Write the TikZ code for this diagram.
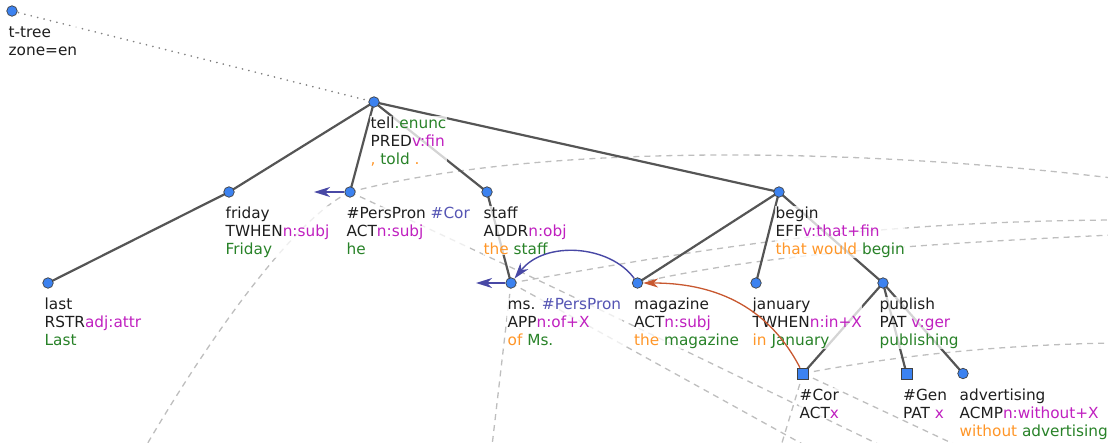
\documentclass[tikz,border=0pt]{standalone}
\usepackage{fontspec}
\setmainfont{DejaVu Sans}
\usetikzlibrary{arrows.meta}

\definecolor{nodeblue}{RGB}{60,130,240}
\definecolor{edgegray}{RGB}{85,85,85}
\definecolor{dashgray}{RGB}{190,190,190}
\definecolor{dotgray}{RGB}{130,130,130}
\definecolor{txtdark}{RGB}{30,30,30}
\definecolor{fgreen}{RGB}{40,130,40}
\definecolor{fmag}{RGB}{192,32,192}
\definecolor{forange}{RGB}{255,150,40}
\definecolor{fcoref}{RGB}{85,85,180}
\definecolor{corarrow}{RGB}{72,72,165}
\definecolor{gramarrow}{RGB}{200,88,48}

\newcommand{\tgr}[1]{\textcolor{fgreen}{#1}}
\newcommand{\tmg}[1]{\textcolor{fmag}{#1}}
\newcommand{\tor}[1]{\textcolor{forange}{#1}}
\newcommand{\tcf}[1]{\textcolor{fcoref}{#1}}
\newcommand{\threelines}[3]{\vtop{\hbox{#1}\hbox{#2}\hbox{#3}}}
\newcommand{\twolines}[2]{\vtop{\hbox{#1}\hbox{#2}}}

\pgfdeclarelayer{links}
\pgfdeclarelayer{edges}
\pgfdeclarelayer{labels}
\pgfdeclarelayer{arrows}
\pgfsetlayers{links,edges,labels,arrows,main}

\begin{document}
\begin{tikzpicture}[x=1pt,y=-1pt,
  tnode/.style={circle, draw=black!75, fill=nodeblue, line width=0.7pt, inner sep=0pt, minimum size=10.5pt},
  tsquare/.style={rectangle, draw=black!75, fill=nodeblue, line width=0.7pt, inner sep=0pt, minimum size=11pt},
  tedge/.style={draw=edgegray, line width=2.2pt},
  rootlink/.style={draw=dotgray, line width=1.8pt, line cap=round, dash pattern=on 0.1pt off 6.5pt},
  zonelink/.style={draw=dashgray, line width=1.3pt, dash pattern=on 6pt off 5pt},
  lbl/.style={anchor=base west, inner sep=0.5pt, fill=white, fill opacity=0.75, text opacity=1,
              text=txtdark, font=\fontsize{15.3}{18}\selectfont},
  coref/.style={draw=corarrow, line width=1.4pt, -{Stealth[length=16pt,width=10pt,inset=5pt]}},
  gram/.style={draw=gramarrow, line width=1.3pt, -{Stealth[length=15pt,width=9pt,inset=4.5pt]}}
]
\useasboundingbox (0,0) rectangle (1108,442);
\clip (0,0) rectangle (1108,442);

% tree nodes
\node[tnode] (root) at (12,11) {};
\node[tnode] (tell) at (374,102) {};
\node[tnode] (friday) at (229,192) {};
\node[tnode] (pers) at (350,192) {};
\node[tnode] (staff) at (487,192) {};
\node[tnode] (begin) at (779,192) {};
\node[tnode] (last) at (48,283) {};
\node[tnode] (ms) at (511,283) {};
\node[tnode] (mag) at (637.5,283) {};
\node[tnode] (jan) at (756,283) {};
\node[tnode] (pub) at (883,283) {};
\node[tsquare] (cor) at (803,373.5) {};
\node[tsquare] (gen) at (906.5,373.5) {};
\node[tnode] (adv) at (963,373.5) {};

% free ends of links leaving the picture
\coordinate (out-a) at (146,446);
\coordinate (out-b) at (1112,178);
\coordinate (out-c) at (1112,220);
\coordinate (out-d) at (1112,235);
\coordinate (out-e) at (1112,343);
\coordinate (out-f) at (882,446);
\coordinate (out-g) at (806,446);
\coordinate (out-h) at (492,446);
\coordinate (out-i) at (781,446);
\coordinate (out-j) at (958,446);
\coordinate (pers-ant) at (314,192);
\coordinate (ms-ant) at (476,283);

% dashed links to other zones
\begin{pgfonlayer}{links}
  \draw[zonelink] (pers.center) .. controls (300,215) and (220,320) .. (out-a);
  \draw[zonelink] (pers.center) .. controls (550,140) and (880,150) .. (out-b);
  \draw[zonelink] (ms.center) .. controls (700,250) and (850,222) .. (out-c);
  \draw[zonelink] (mag.center) .. controls (760,255) and (900,245) .. (out-d);
  \draw[zonelink] (cor.center) .. controls (900,355) and (1000,345) .. (out-e);
  \draw[zonelink] (pers.center) .. controls (560,290) .. (out-f);
  \draw[zonelink] (ms.center) -- (out-g);
  \draw[zonelink] (ms.center) -- (out-h);
  \draw[zonelink] (cor.center) -- (out-i);
  \draw[zonelink] (cor.center) -- (out-j);
\end{pgfonlayer}

% tree edges
\begin{pgfonlayer}{edges}
  \draw[rootlink] (root.center) -- (tell.center);
  \draw[tedge] (tell.center) -- (friday.center);
  \draw[tedge] (tell.center) -- (pers.center);
  \draw[tedge] (tell.center) -- (staff.center);
  \draw[tedge] (tell.center) -- (begin.center);
  \draw[tedge] (friday.center) -- (last.center);
  \draw[tedge] (staff.center) -- (ms.center);
  \draw[tedge] (begin.center) -- (mag.center);
  \draw[tedge] (begin.center) -- (jan.center);
  \draw[tedge] (begin.center) -- (pub.center);
  \draw[tedge] (pub.center) -- (cor.center);
  \draw[tedge] (pub.center) -- (gen.center);
  \draw[tedge] (pub.center) -- (adv.center);
\end{pgfonlayer}

% node labels
\begin{pgfonlayer}{labels}
  \node[lbl] (root-l) at (8,37.5) {\twolines{t-tree}{zone=en}};
  \node[lbl] (tell-l) at (370,128.5) {\threelines{tell\tgr{.enunc}}{PRED\tmg{v:fin}}{\tor{,} \tgr{told} \tor{.}}};
  \node[lbl] (friday-l) at (225,218.5) {\threelines{friday}{TWHEN\tmg{n:subj}}{\tgr{Friday}}};
  \node[lbl] (pers-l) at (346,218.5) {\threelines{\#PersPron \tcf{\#Cor}}{ACT\tmg{n:subj}}{\tgr{he}}};
  \node[lbl] (staff-l) at (483,218.5) {\threelines{staff}{ADDR\tmg{n:obj}}{\tor{the} \tgr{staff}}};
  \node[lbl] (begin-l) at (775,218.5) {\threelines{begin}{EFF\tmg{v:that+fin}}{\tor{that would} \tgr{begin}}};
  \node[lbl] (last-l) at (44,309.5) {\threelines{last}{RSTR\tmg{adj:attr}}{\tgr{Last}}};
  \node[lbl] (ms-l) at (507,309.5) {\threelines{ms. \tcf{\#PersPron}}{APP\tmg{n:of+X}}{\tor{of} \tgr{Ms.}}};
  \node[lbl] (mag-l) at (633.5,309.5) {\threelines{magazine}{ACT\tmg{n:subj}}{\tor{the} \tgr{magazine}}};
  \node[lbl] (jan-l) at (752,309.5) {\threelines{january}{TWHEN\tmg{n:in+X}}{\tor{in} \tgr{January}}};
  \node[lbl] (pub-l) at (879,309.5) {\threelines{publish}{PAT \tmg{v:ger}}{\tgr{publishing}}};
  \node[lbl] (cor-l) at (799,400) {\twolines{\#Cor}{ACT\tmg{x}}};
  \node[lbl] (gen-l) at (902.5,400) {\twolines{\#Gen}{PAT \tmg{x}}};
  \node[lbl] (adv-l) at (959,400) {\threelines{advertising}{ACMP\tmg{n:without+X}}{\tor{without} \tgr{advertising}}};
\end{pgfonlayer}

% coreference arrows
\begin{pgfonlayer}{arrows}
  \draw[coref] (pers) -- (pers-ant);
  \draw[coref] (ms) -- (ms-ant);
  \draw[coref] (mag) .. controls (610,245) and (545,240) .. (ms);
  \draw[gram] (cor) .. controls (770,310) and (720,283) .. (mag);
\end{pgfonlayer}
\end{tikzpicture}
\end{document}
